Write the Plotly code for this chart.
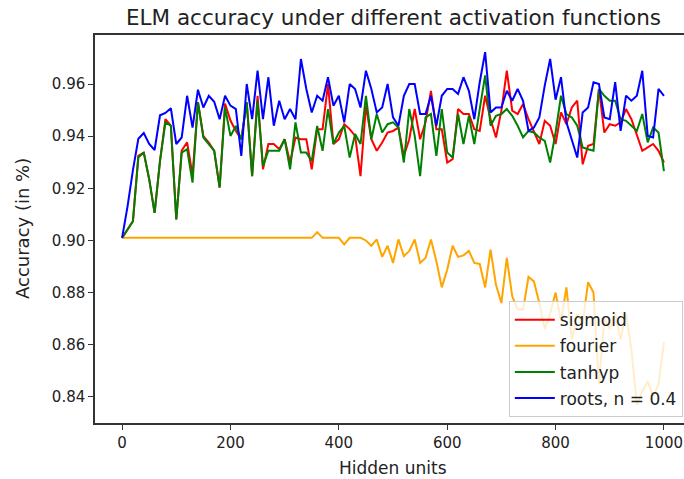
import plotly.graph_objects as go

hidden_units = list(range(0, 1001, 10))

sigmoid = [
    0.901, 0.9042, 0.9074, 0.9325, 0.9337, 0.9235, 0.9106, 0.9305, 0.9465, 0.944,
    0.9081, 0.9345, 0.9376, 0.925, 0.953, 0.94, 0.9375, 0.9344, 0.9203, 0.9525,
    0.946, 0.942, 0.9388, 0.953, 0.9247, 0.9555, 0.9273, 0.937, 0.937, 0.935,
    0.9388, 0.9299, 0.9395, 0.9388, 0.9388, 0.9273, 0.9427, 0.9427, 0.960, 0.937,
    0.9388, 0.9446, 0.9427, 0.9401, 0.9247, 0.9517, 0.9388, 0.9344, 0.9376, 0.9414,
    0.942, 0.9433, 0.9324, 0.9388, 0.9504, 0.9388, 0.9453, 0.9574, 0.9427, 0.9427,
    0.9299, 0.9312, 0.9504, 0.9485, 0.9485, 0.9427, 0.942, 0.9555, 0.9465, 0.9395,
    0.9498, 0.9651, 0.9498, 0.9485, 0.9523, 0.9465, 0.9414, 0.937, 0.9459, 0.944,
    0.937, 0.9491, 0.9446, 0.951, 0.9536, 0.9292, 0.9363, 0.937, 0.9581, 0.9414,
    0.9446, 0.944, 0.9453, 0.9504, 0.9465, 0.9408, 0.9344, 0.9357, 0.937, 0.9344,
    0.9299,
]

fourier = [0.901] * 36 + [
    0.9032, 0.901, 0.901, 0.901, 0.901, 0.8985, 0.901, 0.901, 0.901, 0.900,
    0.898, 0.9004, 0.8937, 0.898, 0.8914, 0.9004, 0.894, 0.896, 0.9004, 0.8914,
    0.8933, 0.9004, 0.892, 0.882, 0.8888, 0.898, 0.8937, 0.8943, 0.896, 0.8914,
    0.891, 0.882, 0.8965, 0.883, 0.876, 0.8933, 0.8786, 0.8735, 0.8735, 0.886,
    0.8843, 0.876, 0.866, 0.872, 0.880, 0.869, 0.882, 0.862, 0.872, 0.868,
    0.884, 0.880, 0.845, 0.870, 0.866, 0.872, 0.862, 0.872, 0.858, 0.837,
    0.842, 0.846, 0.840, 0.845, 0.861,
]

tanhyp = [
    0.901, 0.9042, 0.9074, 0.9318, 0.9337, 0.9235, 0.9106, 0.9305, 0.9453, 0.944,
    0.9081, 0.9337, 0.935, 0.9222, 0.953, 0.9395, 0.937, 0.9344, 0.9203, 0.951,
    0.9401, 0.9439, 0.9388, 0.953, 0.9247, 0.9536, 0.9286, 0.9344, 0.9344, 0.9344,
    0.9388, 0.9273, 0.9453, 0.9337, 0.9337, 0.9305, 0.9439, 0.9344, 0.9504, 0.937,
    0.9414, 0.9439, 0.9318, 0.9408, 0.937, 0.9555, 0.9388, 0.9485, 0.9414, 0.9446,
    0.9453, 0.9433, 0.9299, 0.9504, 0.9401, 0.9247, 0.9472, 0.9485, 0.9324, 0.9504,
    0.9337, 0.9318, 0.9485, 0.937, 0.9478, 0.937, 0.9504, 0.9633, 0.944, 0.9478,
    0.9485, 0.9504, 0.9478, 0.944, 0.9395, 0.942, 0.9414, 0.9395, 0.9382, 0.9299,
    0.9414, 0.9555, 0.9485, 0.9472, 0.944, 0.9357, 0.935, 0.9344, 0.9581, 0.9555,
    0.9536, 0.9536, 0.9465, 0.9459, 0.944, 0.942, 0.9485, 0.9376, 0.9433, 0.9414,
    0.9266,
]

roots = [
    0.901, 0.913, 0.927, 0.939, 0.9412, 0.937, 0.9347, 0.948, 0.9489, 0.9507,
    0.937, 0.9395, 0.9555, 0.9433, 0.9578, 0.951, 0.9555, 0.9532, 0.9465, 0.9555,
    0.9517, 0.9504, 0.9324, 0.960, 0.9465, 0.9651, 0.9465, 0.9626, 0.944, 0.9536,
    0.9465, 0.9504, 0.9465, 0.9696, 0.9581, 0.9491, 0.9555, 0.9536, 0.9626, 0.9517,
    0.9555, 0.9453, 0.960, 0.9581, 0.951, 0.9651, 0.9581, 0.9491, 0.951, 0.960,
    0.9472, 0.944, 0.9555, 0.960, 0.960, 0.9485, 0.9485, 0.9555, 0.944, 0.9555,
    0.9581, 0.9581, 0.9562, 0.9626, 0.9574, 0.9465, 0.9607, 0.9722, 0.9491, 0.951,
    0.951, 0.9574, 0.9536, 0.9581, 0.9536, 0.942, 0.9433, 0.9472, 0.9594, 0.9696,
    0.954, 0.9626, 0.9453, 0.9388, 0.9318, 0.9491, 0.951, 0.9607, 0.960, 0.9472,
    0.9465, 0.9607, 0.942, 0.9555, 0.9536, 0.9555, 0.9651, 0.9401, 0.9395, 0.9581,
    0.9555,
]

series_names = ["sigmoid", "fourier", "tanhyp", "roots, n = 0.4"]
series_values = [sigmoid, fourier, tanhyp, roots]
series_colors = ["#ff0000", "#ffa500", "#008000", "#0000ff"]

x_ticks = [0, 200, 400, 600, 800, 1000]
y_ticks = [0.84, 0.86, 0.88, 0.90, 0.92, 0.94, 0.96]

FONT = "DejaVu Sans"

fig = go.Figure()
for i, (name, vals, col) in enumerate(zip(series_names, series_values, series_colors)):
    fig.add_trace(go.Scatter(
        x=hidden_units, y=vals, mode="lines", name=name,
        line=dict(color=col, width=2), legendgroup=str(i),
    ))

fig.update_layout(
    width=684, height=479,
    margin=dict(l=95, r=0, t=35, b=56),
    paper_bgcolor="white", plot_bgcolor="white",
    font=dict(family=FONT, size=15, color="#222"),
    showlegend=True,
    legend=dict(
        x=0.998, y=0.015, xanchor="right", yanchor="bottom",
        bgcolor="rgba(255,255,255,0.8)", bordercolor="#cccccc", borderwidth=1,
        font=dict(family=FONT, size=17, color="#222"),
        traceorder="grouped", tracegroupgap=1, itemwidth=40,
    ),
    xaxis=dict(
        range=[-50, 1037], tickvals=x_ticks, ticktext=[str(v) for v in x_ticks],
        showgrid=False, zeroline=False, showline=True, linecolor="#333", linewidth=1.5,
        mirror=True, ticks="outside", ticklen=5, tickcolor="#333",
        tickfont=dict(family=FONT, size=15, color="#222"),
    ),
    yaxis=dict(
        range=[0.830, 0.9788], tickvals=y_ticks, ticktext=[f"{v:.2f}" for v in y_ticks],
        showgrid=False, zeroline=False, showline=True, linecolor="#333", linewidth=1.5,
        ticks="outside", ticklen=5, tickcolor="#333",
        tickfont=dict(family=FONT, size=15, color="#222"),
    ),
    annotations=[
        dict(text="ELM accuracy under different activation functions", xref="x", yref="paper",
             x=500, y=1, yshift=18, yanchor="middle", showarrow=False,
             font=dict(family=FONT, size=21.5, color="#222")),
        dict(text="Hidden units", xref="x", yref="paper", x=500, y=0, yshift=-45,
             yanchor="middle", showarrow=False, font=dict(family=FONT, size=17, color="#222")),
        dict(text="Accuracy (in %)", xref="paper", x=0, xshift=-73, yref="paper", y=0.5,
             xanchor="center", yanchor="middle", textangle=-90, showarrow=False,
             font=dict(family=FONT, size=18, color="#222")),
    ],
)

fig.write_html("out.html")
